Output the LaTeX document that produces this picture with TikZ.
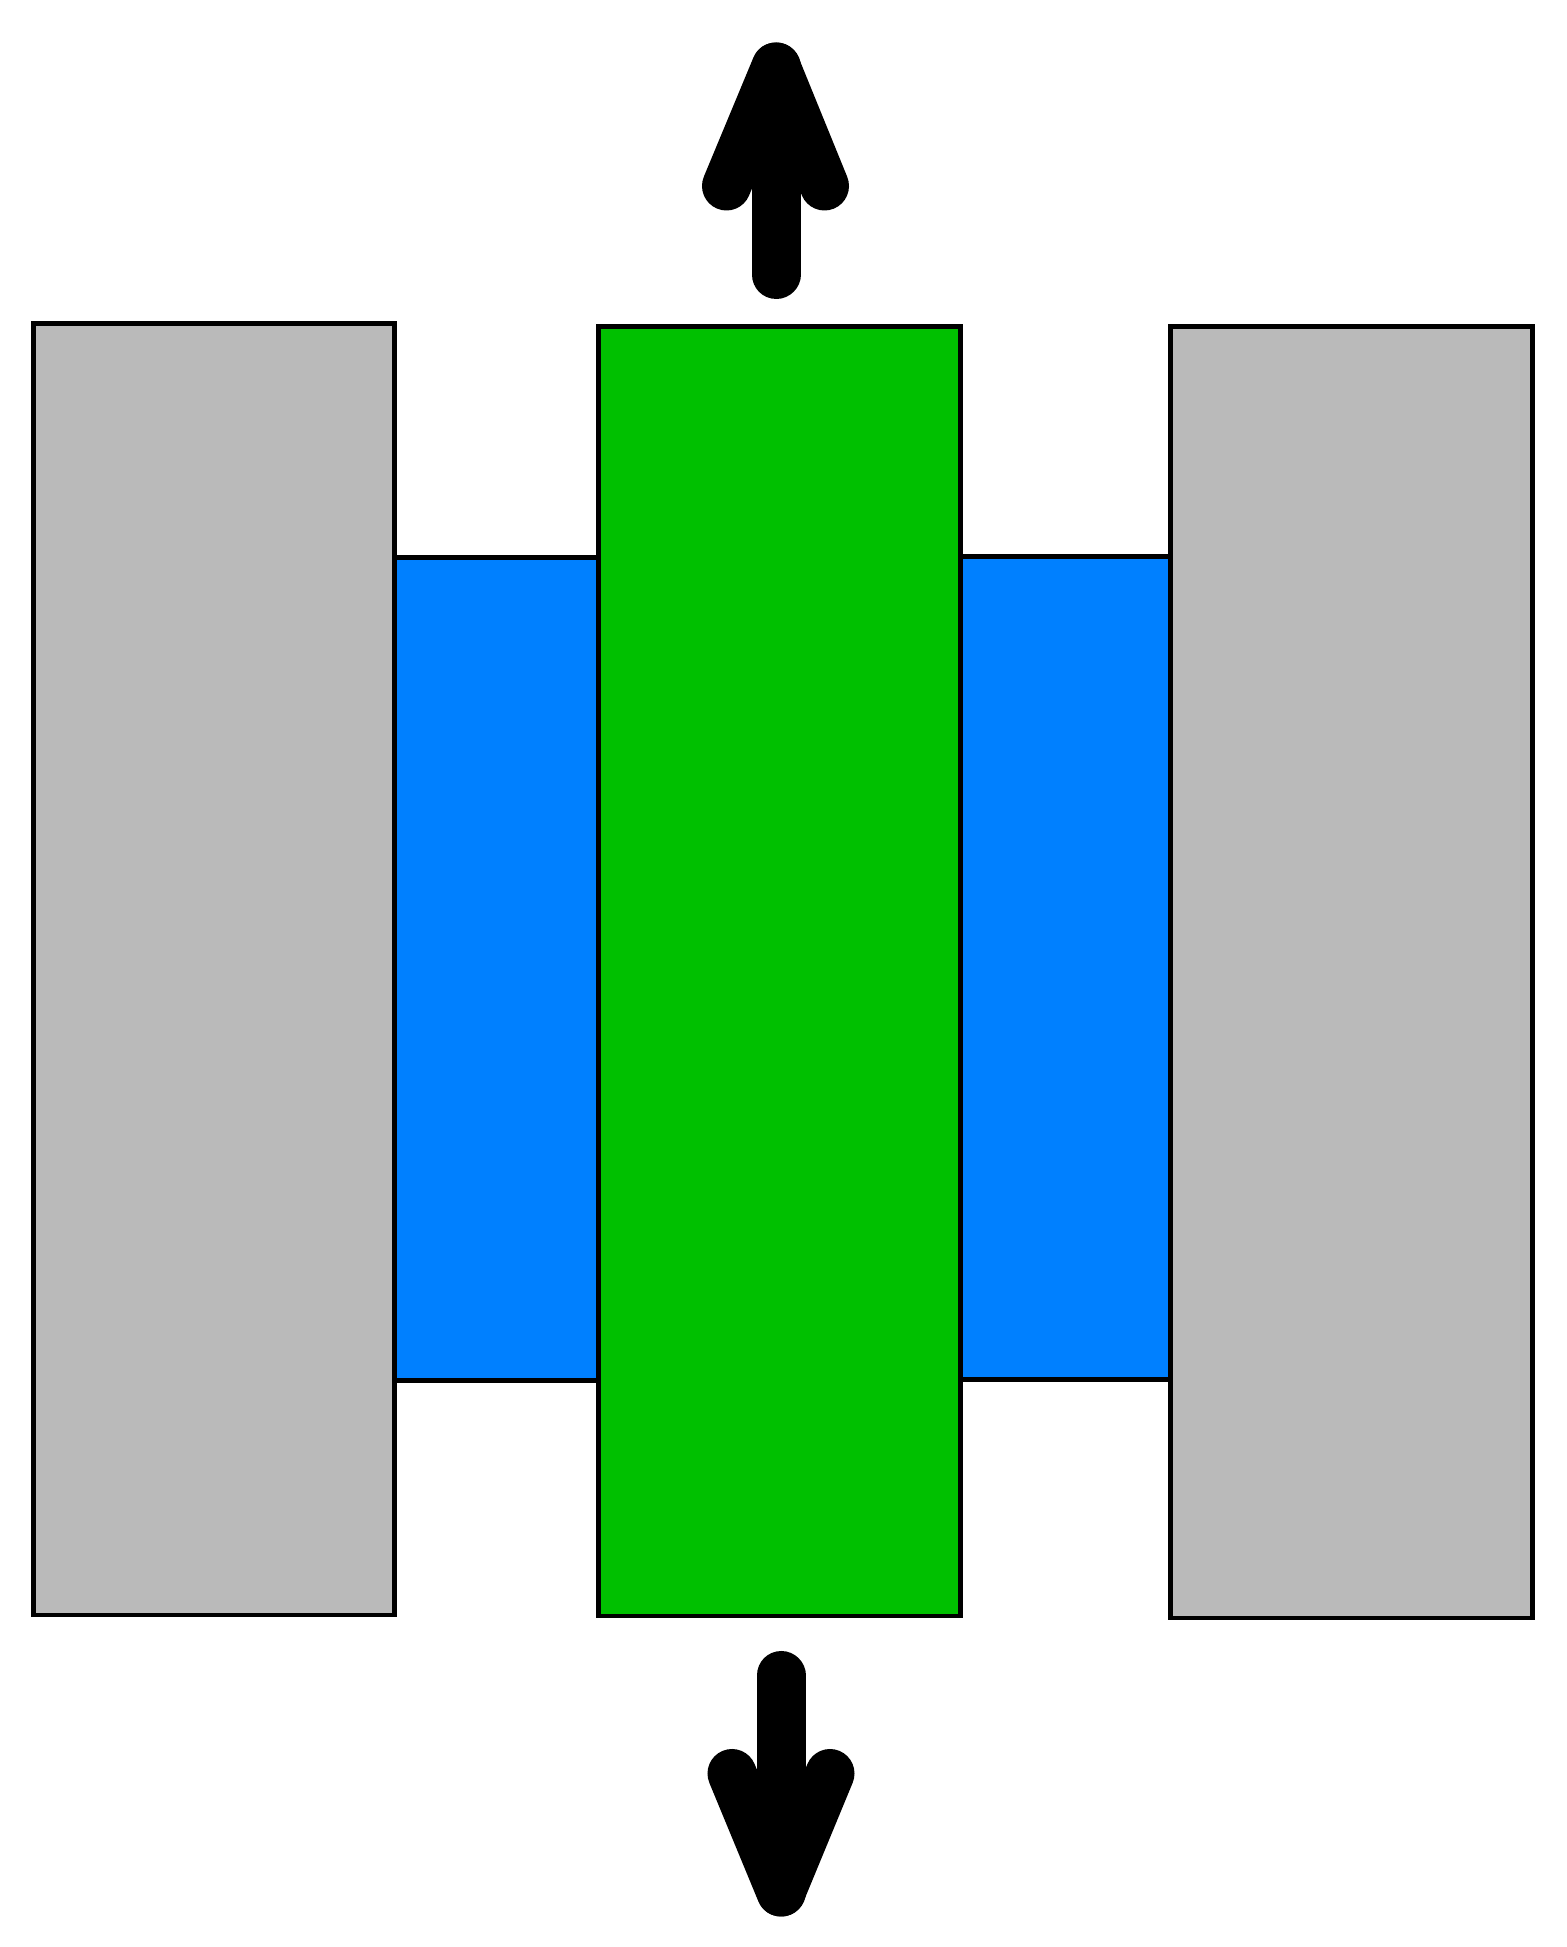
\documentclass[tikz,border=0pt]{standalone}
\usepackage{xcolor}
\usepackage{tikz}
\usetikzlibrary{calc}
\definecolor{wallColor}{RGB}{186, 186, 186}
\definecolor{layerColor}{RGB}{0, 128, 255}
\definecolor{slabColor}{RGB}{0, 192, 0}

\begin{document}
\begin{tikzpicture}[
    block/.style={draw=black, line width=1.42pt},
    pull/.style={line width=0.49cm, line cap=round, line join=round}
]
    \useasboundingbox (0,0) rectangle (15.67,19.47);

    % Blue layers between the walls
    \fill[layerColor, block] (3.945,5.665) rectangle (5.985,13.895);
    \fill[layerColor, block] (9.60,5.675) rectangle (11.705,13.905);

    % Outer walls
    \fill[wallColor, block] (0.335,3.32) rectangle (3.945,16.235);
    \fill[wallColor, block] (11.705,3.29) rectangle (15.325,16.205);

    % Middle slab
    \fill[slabColor, block] (5.985,3.31) rectangle (9.60,16.205);

    % Pull arrows
    \coordinate (upBase) at (7.76,16.725);
    \coordinate (upTip) at (7.76,18.80);
    \coordinate (upLeft) at (7.265,17.61);
    \coordinate (upRight) at (8.245,17.61);
    \draw[pull] (upBase) -- (upTip);
    \fill (upLeft) -- (upTip) -- (upRight) -- cycle;
    \draw[pull] (upLeft) -- (upTip) -- (upRight);

    \coordinate (downBase) at (7.81,2.715);
    \coordinate (downTip) at (7.81,0.55);
    \coordinate (downLeft) at (7.32,1.735);
    \coordinate (downRight) at (8.30,1.735);
    \draw[pull] (downBase) -- (downTip);
    \fill (downLeft) -- (downTip) -- (downRight) -- cycle;
    \draw[pull] (downLeft) -- (downTip) -- (downRight);

\end{tikzpicture}
\end{document}
